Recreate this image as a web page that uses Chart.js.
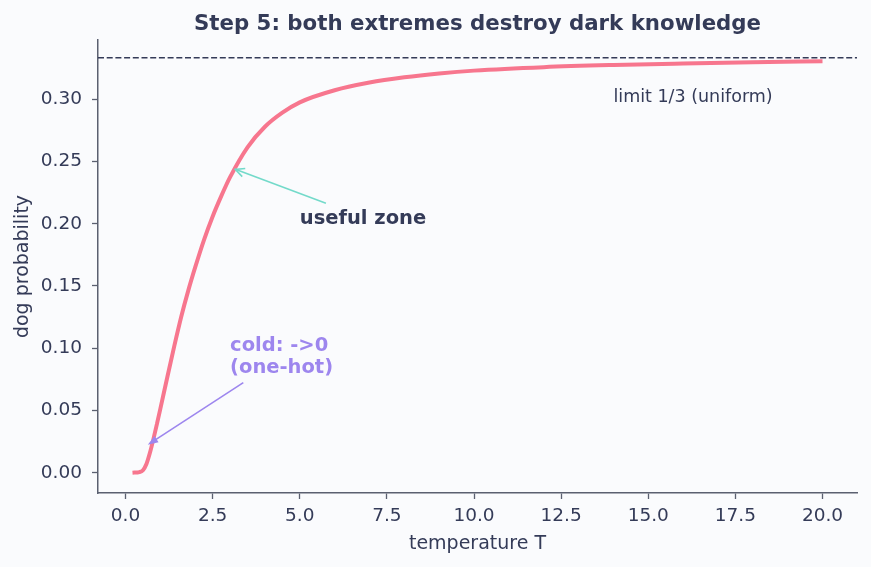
<!DOCTYPE html>
<html>
<head>
<meta charset="utf-8">
<script src="https://cdn.jsdelivr.net/npm/chart.js@4.4.1/dist/chart.umd.min.js"></script>
<style>
  html, body { margin: 0; padding: 0; background: #fafbfd; }
  #wrap { width: 871px; height: 567px; }
</style>
</head>
<body>
<div id="wrap"><canvas id="myChart" width="871" height="567"></canvas></div>
<script>
// values
const temperatures = [0.2, 0.4, 0.5, 0.6, 0.7, 0.8, 0.9, 1.0, 1.2, 1.4, 1.6, 1.8, 2.0, 2.25, 2.5, 2.75, 3.0, 3.5, 4.0, 4.5, 5, 6, 7, 8, 9, 10, 12, 14, 16, 18, 20];
const dogProbability = [0.000, 0.0005, 0.002, 0.007, 0.016, 0.027, 0.039, 0.0515, 0.0769, 0.1019, 0.1255, 0.1463, 0.1651, 0.1869, 0.2059, 0.2224, 0.2374, 0.2614, 0.2779, 0.2892, 0.2975, 0.3072, 0.3134, 0.3176, 0.3207, 0.3230, 0.3258, 0.3275, 0.3287, 0.3297, 0.3305];
const xTicks = [0, 2.5, 5, 7.5, 10, 12.5, 15, 17.5, 20];
const yTicks = [0, 0.05, 0.10, 0.15, 0.20, 0.25, 0.30];
const uniformLimit = 1 / 3;

const FONT = "'DejaVu Sans', sans-serif";
const INK = '#343b58';
const AXIS = '#5b6070';
const RED = '#f7768e';
const GREEN = '#73daca';
const PURPLE = '#9d86ee';

function arrow(ctx, x0, y0, x1, y1, color, filled) {
    const ang = Math.atan2(y1 - y0, x1 - x0);
    ctx.save();
    ctx.strokeStyle = color;
    ctx.fillStyle = color;
    ctx.lineWidth = 1.6;
    ctx.beginPath();
    ctx.moveTo(x0, y0);
    ctx.lineTo(filled ? x1 - 8 * Math.cos(ang) : x1, filled ? y1 - 8 * Math.sin(ang) : y1);
    ctx.stroke();
    if (filled) {
        ctx.beginPath();
        ctx.moveTo(x1, y1);
        ctx.lineTo(x1 - 11 * Math.cos(ang - 0.35), y1 - 11 * Math.sin(ang - 0.35));
        ctx.lineTo(x1 - 11 * Math.cos(ang + 0.35), y1 - 11 * Math.sin(ang + 0.35));
        ctx.closePath();
        ctx.fill();
    } else {
        ctx.beginPath();
        ctx.moveTo(x1 - 10 * Math.cos(ang - 0.45), y1 - 10 * Math.sin(ang - 0.45));
        ctx.lineTo(x1, y1);
        ctx.lineTo(x1 - 10 * Math.cos(ang + 0.45), y1 - 10 * Math.sin(ang + 0.45));
        ctx.stroke();
    }
    ctx.restore();
}

const annotations = {
    id: 'annotations',
    afterDatasetsDraw(chart) {
        const ctx = chart.ctx;
        const xs = chart.scales.x, ys = chart.scales.y;
        const area = chart.chartArea;
        const px = v => xs.getPixelForValue(v);
        const py = v => ys.getPixelForValue(v);

        // dashed uniform limit
        ctx.save();
        ctx.strokeStyle = INK;
        ctx.lineWidth = 1.5;
        ctx.setLineDash([6, 2.7]);
        ctx.beginPath();
        ctx.moveTo(area.left, py(uniformLimit));
        ctx.lineTo(area.right, py(uniformLimit));
        ctx.stroke();
        ctx.restore();

        ctx.save();
        ctx.textBaseline = 'alphabetic';
        ctx.textAlign = 'left';
        ctx.fillStyle = INK;
        ctx.font = '17.5px ' + FONT;
        ctx.fillText('limit 1/3 (uniform)', px(14), py(0.298));

        arrow(ctx, px(5.75), py(0.2164), px(3.15), py(0.2437), GREEN, false);
        ctx.fillStyle = INK;
        ctx.font = 'bold 19.5px ' + FONT;
        ctx.fillText('useful zone', px(5), py(0.2));

        arrow(ctx, px(3.38), py(0.0724), px(0.64), py(0.0225), PURPLE, true);
        ctx.fillStyle = PURPLE;
        ctx.fillText('cold: ->0', px(3), py(0.0976));
        ctx.fillText('(one-hot)', px(3), py(0.08));

        // title
        ctx.fillStyle = INK;
        ctx.textAlign = 'center';
        ctx.font = 'bold 21.3px ' + FONT;
        ctx.fillText('Step 5: both extremes destroy dark knowledge', (area.left + area.right) / 2, 30);
        ctx.restore();
    }
};

const ctx = document.getElementById('myChart').getContext('2d');
const myChart = new Chart(ctx, {
    type: 'scatter',
    data: {
        datasets: [{
            label: 'dog',
            data: temperatures.map((t, i) => ({ x: t, y: dogProbability[i] })),
            showLine: true,
            borderColor: RED,
            borderWidth: 4,
            pointRadius: 0,
            cubicInterpolationMode: 'monotone',
            borderCapStyle: 'butt'
        }]
    },
    options: {
        responsive: false,
        animation: false,
        devicePixelRatio: 1,
        layout: { padding: { top: 40, right: 14, left: 0, bottom: 0 } },
        plugins: {
            legend: { display: false },
            title: { display: false },
            tooltip: { enabled: false }
        },
        scales: {
            x: {
                type: 'linear',
                min: -0.79,
                max: 20.99,
                afterBuildTicks: s => { s.ticks = xTicks.map(v => ({ value: v })); },
                afterFit: s => { s.height = 74; },
                ticks: {
                    color: INK,
                    font: { family: FONT, size: 18.5 },
                    padding: 6,
                    maxRotation: 0,
                    callback: v => v.toFixed(1)
                },
                grid: { drawOnChartArea: false, drawTicks: true, tickLength: 6, color: AXIS, tickWidth: 1.3 },
                border: { display: true, color: AXIS, width: 1.5 },
                title: {
                    display: true,
                    text: 'temperature T',
                    color: INK,
                    font: { family: FONT, size: 19 },
                    padding: { top: 0, bottom: 12 }
                }
            },
            y: {
                type: 'linear',
                min: -0.0163,
                max: 0.3476,
                afterBuildTicks: s => { s.ticks = yTicks.map(v => ({ value: v })); },
                afterFit: s => { s.width = 98; },
                ticks: {
                    color: INK,
                    font: { family: FONT, size: 18.5 },
                    padding: 10,
                    callback: v => v.toFixed(2)
                },
                grid: { drawOnChartArea: false, drawTicks: true, tickLength: 6, color: AXIS, tickWidth: 1.3 },
                border: { display: true, color: AXIS, width: 1.5 },
                title: {
                    display: true,
                    text: 'dog probability',
                    color: INK,
                    font: { family: FONT, size: 19 },
                    padding: { top: 12, bottom: 10 }
                }
            }
        }
    },
    plugins: [annotations]
});
</script>
</body>
</html>
